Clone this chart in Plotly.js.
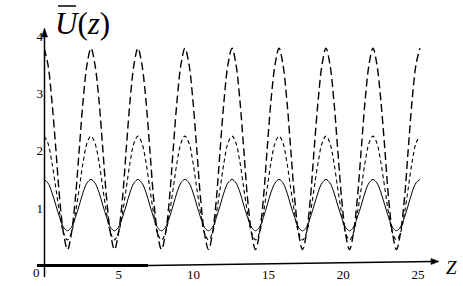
<!DOCTYPE html>
<html>
<head>
<meta charset="utf-8">
<script src="https://cdn.plot.ly/plotly-3.0.1.min.js"></script>
<style>html,body{margin:0;padding:0;background:#fff;}#chart{width:463px;height:286px;}</style>
</head>
<body>
<div id="chart"></div>
<script>
// z values (peaks at k*pi, minima at (k+1/2)*pi)
const zVals = [
  0.00, 0.26, 0.52, 0.79, 1.05, 1.31, 1.57, 1.83, 2.09, 2.36, 2.62, 2.88,
  3.14, 3.40, 3.67, 3.93, 4.19, 4.45, 4.71, 4.97, 5.24, 5.50, 5.76, 6.02,
  6.28, 6.54, 6.81, 7.07, 7.33, 7.59, 7.85, 8.12, 8.38, 8.64, 8.90, 9.16,
  9.42, 9.69, 9.95, 10.21, 10.47, 10.73, 11.00, 11.26, 11.52, 11.78, 12.04, 12.30,
  12.57, 12.83, 13.09, 13.35, 13.61, 13.88, 14.14, 14.40, 14.66, 14.92, 15.18, 15.45,
  15.71, 15.97, 16.23, 16.49, 16.76, 17.02, 17.28, 17.54, 17.80, 18.06, 18.33, 18.59,
  18.85, 19.11, 19.37, 19.63, 19.90, 20.16, 20.42, 20.68, 20.94, 21.21, 21.47, 21.73,
  21.99, 22.25, 22.51, 22.78, 23.04, 23.30, 23.56, 23.82, 24.09, 24.35, 24.61, 24.87,
  25.13
];
// solid curve (peak ~1.5, minimum ~0.6)
const uSolid = [
  1.50, 1.44, 1.28, 1.05, 0.83, 0.66, 0.60, 0.66, 0.83, 1.05, 1.28, 1.44,
  1.50, 1.44, 1.28, 1.05, 0.83, 0.66, 0.60, 0.66, 0.83, 1.05, 1.28, 1.44,
  1.50, 1.44, 1.28, 1.05, 0.83, 0.66, 0.60, 0.66, 0.83, 1.05, 1.28, 1.44,
  1.50, 1.44, 1.28, 1.05, 0.83, 0.66, 0.60, 0.66, 0.83, 1.05, 1.28, 1.44,
  1.50, 1.44, 1.28, 1.05, 0.83, 0.66, 0.60, 0.66, 0.83, 1.05, 1.28, 1.44,
  1.50, 1.44, 1.28, 1.05, 0.83, 0.66, 0.60, 0.66, 0.83, 1.05, 1.28, 1.44,
  1.50, 1.44, 1.28, 1.05, 0.83, 0.66, 0.60, 0.66, 0.83, 1.05, 1.28, 1.44,
  1.50, 1.44, 1.28, 1.05, 0.83, 0.66, 0.60, 0.66, 0.83, 1.05, 1.28, 1.44,
  1.50
];
// short-dashed curve (peak ~2.26, minimum ~0.44)
const uShortDash = [
  2.26, 2.14, 1.81, 1.35, 0.90, 0.56, 0.44, 0.56, 0.90, 1.35, 1.81, 2.14,
  2.26, 2.14, 1.81, 1.35, 0.90, 0.56, 0.44, 0.56, 0.90, 1.35, 1.81, 2.14,
  2.26, 2.14, 1.81, 1.35, 0.90, 0.56, 0.44, 0.56, 0.90, 1.35, 1.81, 2.14,
  2.26, 2.14, 1.81, 1.35, 0.90, 0.56, 0.44, 0.56, 0.90, 1.35, 1.81, 2.14,
  2.26, 2.14, 1.81, 1.35, 0.90, 0.56, 0.44, 0.56, 0.90, 1.35, 1.81, 2.14,
  2.26, 2.14, 1.81, 1.35, 0.90, 0.56, 0.44, 0.56, 0.90, 1.35, 1.81, 2.14,
  2.26, 2.14, 1.81, 1.35, 0.90, 0.56, 0.44, 0.56, 0.90, 1.35, 1.81, 2.14,
  2.26, 2.14, 1.81, 1.35, 0.90, 0.56, 0.44, 0.56, 0.90, 1.35, 1.81, 2.14,
  2.26
];
// long-dashed curve (peak ~3.8, minimum ~0.27)
const uLongDash = [
  3.80, 3.52, 2.90, 2.04, 1.15, 0.55, 0.27, 0.55, 1.15, 2.04, 2.90, 3.52,
  3.80, 3.52, 2.90, 2.04, 1.15, 0.55, 0.27, 0.55, 1.15, 2.04, 2.90, 3.52,
  3.80, 3.52, 2.90, 2.04, 1.15, 0.55, 0.27, 0.55, 1.15, 2.04, 2.90, 3.52,
  3.80, 3.52, 2.90, 2.04, 1.15, 0.55, 0.27, 0.55, 1.15, 2.04, 2.90, 3.52,
  3.80, 3.52, 2.90, 2.04, 1.15, 0.55, 0.27, 0.55, 1.15, 2.04, 2.90, 3.52,
  3.80, 3.52, 2.90, 2.04, 1.15, 0.55, 0.27, 0.55, 1.15, 2.04, 2.90, 3.52,
  3.80, 3.52, 2.90, 2.04, 1.15, 0.55, 0.27, 0.55, 1.15, 2.04, 2.90, 3.52,
  3.80, 3.52, 2.90, 2.04, 1.15, 0.55, 0.27, 0.55, 1.15, 2.04, 2.90, 3.52,
  3.80
];
const xTickVals = [5, 10, 15, 20, 25];
const xTickText = ['5', '10', '15', '20', '25'];
const yTickVals = [1, 2, 3, 4];
const yTickText = ['1', '2', '3', '4'];

const L = 44, T = 30, W = 393, H = 235;
const px = p => (p - L) / W;
const py = p => (T + H - p) / H;
const FONT = "'Liberation Serif', 'Times New Roman', Times, serif";

const traces = [
  {x: zVals, y: uLongDash, mode: 'lines', line: {color: '#000', width: 1.4, dash: '8px,4px', shape: 'spline', smoothing: 1}, hoverinfo: 'skip'},
  {x: zVals, y: uShortDash, mode: 'lines', line: {color: '#000', width: 1.1, dash: '4px,3px', shape: 'spline', smoothing: 1}, hoverinfo: 'skip'},
  {x: zVals, y: uSolid, mode: 'lines', line: {color: '#000', width: 1, shape: 'spline', smoothing: 1}, hoverinfo: 'skip'}
];

const tri = (a, b, c) => `M${px(a[0])},${py(a[1])} L${px(b[0])},${py(b[1])} L${px(c[0])},${py(c[1])} Z`;

const layout = {
  width: 463, height: 286,
  margin: {l: L, r: 463 - L - W, t: T, b: 286 - T - H, pad: 0},
  paper_bgcolor: '#fff', plot_bgcolor: '#fff',
  showlegend: false,
  font: {family: FONT, size: 13, color: '#000'},
  xaxis: {range: [0, 26.27], showgrid: false, zeroline: false, showline: false,
          tickvals: xTickVals, ticktext: xTickText, ticks: '', fixedrange: true,
          tickfont: {family: FONT, size: 13, color: '#000'}},
  yaxis: {range: [0, 4.12], showgrid: false, zeroline: false, showline: false,
          tickvals: yTickVals, ticktext: yTickText, ticks: '', fixedrange: true,
          tickfont: {family: FONT, size: 13, color: '#000'}},
  shapes: [
    {type: 'line', xref: 'paper', yref: 'paper', x0: px(44.5), x1: px(44.5), y0: py(277), y1: py(34), line: {color: '#000', width: 1.5}},
    {type: 'path', xref: 'paper', yref: 'paper', path: tri([44.5, 28], [41.5, 37], [47.5, 37]), fillcolor: '#000', line: {color: '#000', width: 0.5}},
    {type: 'line', xref: 'paper', yref: 'paper', x0: px(37), x1: px(148), y0: py(265.5), y1: py(265.5), line: {color: '#000', width: 3}},
    {type: 'line', xref: 'paper', yref: 'paper', x0: px(148), x1: px(432), y0: py(265.5), y1: py(261.5), line: {color: '#000', width: 1.3}},
    {type: 'path', xref: 'paper', yref: 'paper', path: tri([439, 261.5], [431, 258.5], [431, 264.5]), fillcolor: '#000', line: {color: '#000', width: 0.5}},
    {type: 'line', xref: 'paper', yref: 'paper', x0: px(58), x1: px(76), y0: py(6), y1: py(6), line: {color: '#000', width: 1.5}}
  ],
  annotations: [
    {xref: 'paper', yref: 'paper', x: px(53), y: py(23), xanchor: 'left', yanchor: 'middle', showarrow: false,
     text: '<i>U</i>(<i>z</i>)', font: {family: FONT, size: 31, color: '#000'}},
    {xref: 'paper', yref: 'paper', x: px(451), y: py(267), xanchor: 'center', yanchor: 'middle', showarrow: false,
     text: '<i>Z</i>', font: {family: FONT, size: 19, color: '#000'}},
    {xref: 'paper', yref: 'paper', x: px(36), y: py(272), xanchor: 'center', yanchor: 'middle', showarrow: false,
     text: '0', font: {family: FONT, size: 13, color: '#000'}}
  ]
};

Plotly.newPlot('chart', traces, layout, {displayModeBar: false, staticPlot: true});
</script>
</body>
</html>
